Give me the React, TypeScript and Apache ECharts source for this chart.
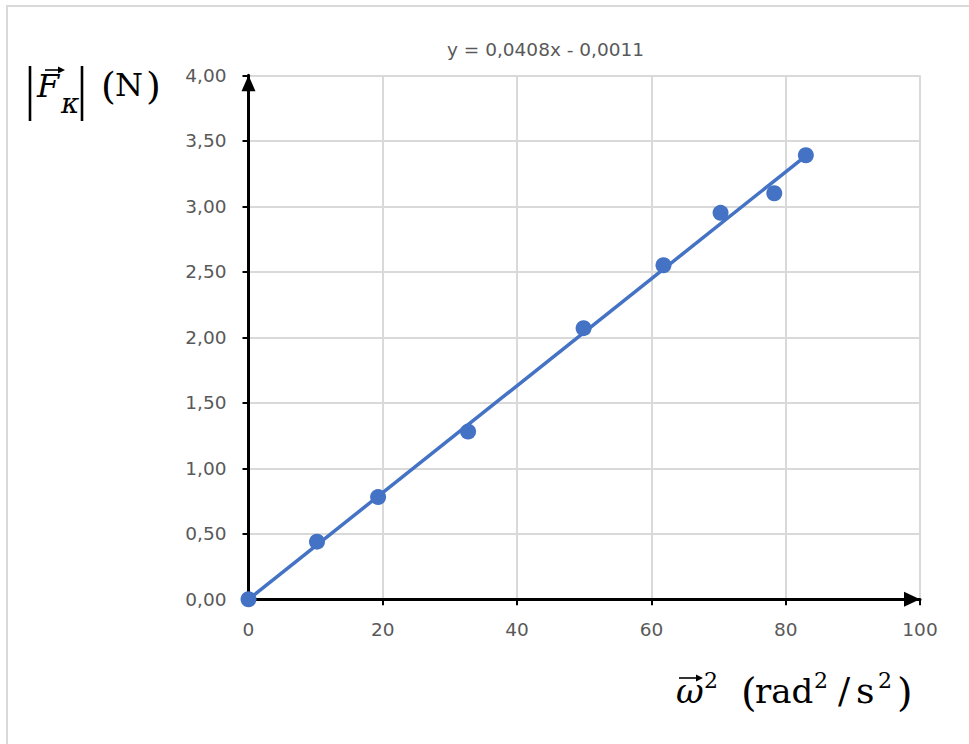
import React, { useEffect, useRef } from "react";
import * as echarts from "echarts";

// ---- data ----
const omegaSquared = [0, 10.2, 19.3, 32.7, 49.9, 61.8, 70.3, 78.3, 83.0];
const forceValues = [0, 0.44, 0.78, 1.28, 2.07, 2.55, 2.95, 3.1, 3.39];
const trendSlope = 0.0408;
const trendIntercept = -0.0011;
const trendLabel = "y = 0,0408x - 0,0011";
const xMin = 0;
const xMax = 100;
const xStep = 20;
const yMin = 0;
const yMax = 4;
const yStep = 0.5;

const BLUE = "#4472C4";
const GRAY_TEXT = "#595959";
const GRID = "#d9d9d9";
const SERIF = "DejaVu Serif";

// center y for a text of size fs whose baseline is at b (dominant-baseline: central)
const mid = (b: number, fs: number) => b - 0.346 * fs;

function txt(text: string, x: number, baseline: number, fs: number, italic = false, extra: any = {}) {
  return {
    type: "text",
    x,
    y: mid(baseline, fs),
    silent: true,
    style: {
      text,
      fontFamily: SERIF,
      fontSize: fs,
      fontStyle: italic ? "italic" : "normal",
      fill: "#000",
      align: "left",
      verticalAlign: "middle",
      ...extra,
    },
  };
}

function vecArrow(x1: number, x2: number, y: number) {
  return [
    { type: "line", silent: true, shape: { x1, y1: y, x2: x2 - 2, y2: y }, style: { stroke: "#000", lineWidth: 1.6 } },
    {
      type: "polygon",
      silent: true,
      shape: { points: [[x2 - 6, y - 3.5], [x2 + 1, y], [x2 - 6, y + 3.5]] },
      style: { fill: "#000" },
    },
  ];
}

export default function App() {
  const ref = useRef<HTMLDivElement>(null);
  useEffect(() => {
    if (!ref.current) return;
    const chart = echarts.init(ref.current, null, { renderer: "svg" });
    const points = omegaSquared.map((x, i) => [x, forceValues[i]]);
    const xEnd = Math.max(...omegaSquared);
    const trend = [
      [0, trendSlope * 0 + trendIntercept],
      [xEnd, trendSlope * xEnd + trendIntercept],
    ];
    const axisLineCommon = { show: true, onZero: false, lineStyle: { color: "#000", width: 3 } };
    chart.setOption({
      animation: false,
      backgroundColor: "#fff",
      grid: { left: 248.5, right: 49, top: 75.3, bottom: 144.7, containLabel: false },
      xAxis: {
        type: "value",
        min: xMin,
        max: xMax,
        interval: xStep,
        axisLine: { ...axisLineCommon, symbol: ["none", "triangle"], symbolSize: [15, 16], symbolOffset: [0, -8] },
        axisTick: { show: true, length: 6, lineStyle: { color: "#000", width: 2 } },
        axisLabel: { color: GRAY_TEXT, fontSize: 18.5, fontFamily: "DejaVu Sans", margin: 21 },
        splitLine: { show: true, lineStyle: { color: GRID, width: 2 } },
      },
      yAxis: {
        type: "value",
        min: yMin,
        max: yMax,
        interval: yStep,
        axisLine: { ...axisLineCommon, symbol: ["none", "triangle"], symbolSize: [14, 16], symbolOffset: [0, -8] },
        axisTick: { show: true, length: 6, lineStyle: { color: "#000", width: 2 } },
        axisLabel: {
          color: GRAY_TEXT,
          fontSize: 18.5,
          fontFamily: "DejaVu Sans",
          margin: 22,
          formatter: (v: number) => v.toFixed(2).replace(".", ","),
        },
        splitLine: { show: true, lineStyle: { color: GRID, width: 2 } },
      },
      series: [
        {
          type: "line",
          data: trend,
          symbol: "none",
          clip: false,
          z: 3,
          lineStyle: { color: BLUE, width: 3.5 },
        },
        {
          type: "scatter",
          data: points,
          symbol: "circle",
          symbolSize: 16,
          clip: false,
          z: 4,
          itemStyle: { color: BLUE, opacity: 1 },
        },
      ],
      graphic: [
        {
          type: "rect",
          silent: true,
          shape: { x: 7, y: 6, width: 1200, height: 1200 },
          style: { fill: "none", stroke: GRID, lineWidth: 2 },
        },
        {
          type: "text",
          x: 545.5,
          y: mid(56, 18.5),
          silent: true,
          style: {
            text: trendLabel,
            fontFamily: "DejaVu Sans",
            fontSize: 18.5,
            fill: GRAY_TEXT,
            align: "center",
            verticalAlign: "middle",
          },
        },
        // y axis name |F_k| (N)
        { type: "line", silent: true, shape: { x1: 30, y1: 66, x2: 30, y2: 121 }, style: { stroke: "#000", lineWidth: 2.6 } },
        txt("F", 37, 97, 32, true),
        ...vecArrow(45, 64, 70),
        txt("κ", 61, 113, 28, true),
        { type: "line", silent: true, shape: { x1: 82, y1: 66, x2: 82, y2: 121 }, style: { stroke: "#000", lineWidth: 2.6 } },
        txt("(", 101, 99, 38),
        txt("N", 115, 96, 32),
        txt(")", 146, 99, 38),
        // x axis name omega^2 (rad^2/s^2)
        txt("ω", 676, 703, 34, true),
        ...vecArrow(679, 702, 678),
        txt("2", 704, 688, 22),
        txt("(", 741, 706, 40),
        txt("rad", 755, 703, 34),
        txt("2", 814, 688, 22),
        txt("/", 838, 703, 36),
        txt("s", 856, 703, 36),
        txt("2", 878, 688, 22),
        txt(")", 897, 706, 40),
      ],
    });
    return () => chart.dispose();
  }, []);
  return (
    <div
      ref={ref}
      style={{ position: "absolute", left: 0, top: 0, width: 969, height: 744, background: "#fff" }}
    />
  );
}
